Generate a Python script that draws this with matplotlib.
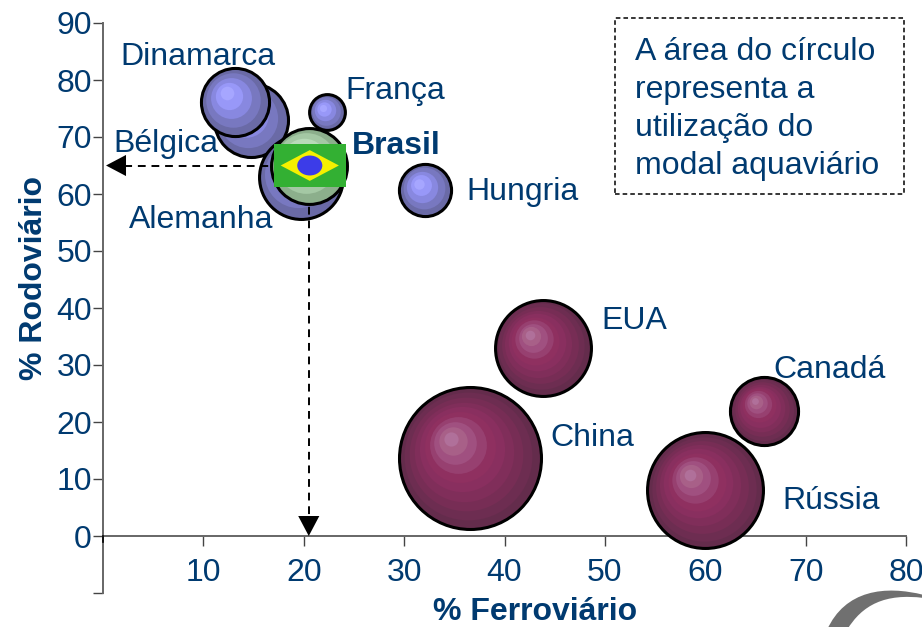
import numpy as np
import matplotlib
matplotlib.use('Agg')
import matplotlib.pyplot as plt
from matplotlib.colors import LinearSegmentedColormap
from matplotlib.patches import Rectangle, Polygon, Ellipse, PathPatch
from matplotlib.path import Path
from matplotlib.transforms import Affine2D

plt.rcParams['font.family'] = ['Liberation Sans', 'DejaVu Sans']

paises = ['Bélgica', 'Dinamarca', 'Alemanha', 'França', 'Hungria', 'EUA', 'China', 'Rússia', 'Canadá']
ferroviario = [14.7, 13.2, 19.7, 22.3, 32.1, 43.8, 36.6, 60.0, 65.9]
rodoviario = [73.0, 76.2, 63.0, 74.3, 60.7, 33.0, 13.7, 8.0, 22.0]
aquaviario = [13.7, 11.6, 17.6, 3.2, 6.8, 23.0, 50.4, 33.6, 11.6]
grupo = ['azul', 'azul', 'azul', 'azul', 'azul', 'roxo', 'roxo', 'roxo', 'roxo']

brasil_x = 20.5
brasil_y = 65.0
brasil_aqua = 14.4

xticks = [10, 20, 30, 40, 50, 60, 70, 80]
yticks = [0, 10, 20, 30, 40, 50, 60, 70, 80, 90]

azul_txt = '#003a70'
cores = {
    'azul': LinearSegmentedColormap.from_list('azul', ['#6a6aa6', '#7878c0', '#8888e0', '#9898f8', '#a6a6ff']),
    'roxo': LinearSegmentedColormap.from_list('roxo', [(0, '#642c4c'), (0.45, '#8a2f5f'), (0.56, '#8f3060'), (0.67, '#974070'), (0.78, '#a05080'), (0.89, '#a86088'), (1, '#b0709a')]),
    'verde': LinearSegmentedColormap.from_list('verde', ['#8caf8c', '#a4c8a4', '#b8dab8', '#cce8cc', '#dcf0dc']),
}
faixas = {'azul': 5, 'verde': 5, 'roxo': 10}

# pixel offsets of the labels from their bubble
desloc = {
    'Bélgica': (-85, -24), 'Dinamarca': (-38, 45), 'Alemanha': (-100, -43),
    'França': (68, 21), 'Hungria': (97, -2), 'EUA': (92, 27),
    'China': (122, 20), 'Rússia': (126, -11), 'Canadá': (65, 41),
}

fig = plt.figure(figsize=(9.22, 6.27), dpi=100)
W, H = 922, 627
ax = fig.add_axes([103 / W, 1 - 593 / H, (906 - 103) / W, (593 - 23) / H])
ax.set_xlim(0, 80)
ax.set_ylim(-10, 90)
ax.patch.set_alpha(0)


def bolha(x, y, agua, nome_cor, z):
    # area goes with the share: radius in pixels is 10*sqrt(share)
    r = 10 * np.sqrt(agua)
    cmap = cores[nome_cor]
    n = faixas[nome_cor]
    for k in range(n):
        t = k / n
        dx = -0.3 * r * t
        dy = 0.3 * r * t
        raio = r * (1 - t)
        d_pt = 2 * raio * 0.72
        tr = ax.transData + Affine2D().translate(dx, dy)
        if k == 0:
            ax.scatter([x], [y], s=d_pt ** 2, color=cmap(0.0), edgecolor='black', linewidth=2.2,
                       transform=tr, zorder=z, clip_on=False)
        else:
            ax.scatter([x], [y], s=d_pt ** 2, color=cmap(k / (n - 1)), linewidth=0,
                       transform=tr, zorder=z + 0.01 * k, clip_on=False)


for i in range(len(paises)):
    bolha(ferroviario[i], rodoviario[i], aquaviario[i], grupo[i], 3 + i * 0.2)
    ax.annotate(paises[i], (ferroviario[i], rodoviario[i]), xytext=desloc[paises[i]],
                textcoords='offset pixels', ha='center', va='center', fontsize=23,
                color=azul_txt, zorder=8)

bolha(brasil_x, brasil_y, brasil_aqua, 'verde', 5.5)
ax.annotate('Brasil', (brasil_x, brasil_y), xytext=(87, 20), textcoords='offset pixels',
            ha='center', va='center', fontsize=23, fontweight='bold', color=azul_txt, zorder=8)

# flag
ax.add_patch(Rectangle((brasil_x - 3.5, brasil_y - 3.7), 7.17, 7.4, color='#33b033', lw=0, zorder=6))
ax.add_patch(Polygon([(brasil_x - 2.8, brasil_y), (brasil_x + 0.1, brasil_y + 2.7),
                      (brasil_x + 3.0, brasil_y), (brasil_x + 0.1, brasil_y - 2.7)],
                     closed=True, color='#f5f000', lw=0, zorder=6.1))
ax.add_patch(Ellipse((brasil_x + 0.1, brasil_y), 2.5, 3.5, color='#3c3ce8', lw=0, zorder=6.2))

# dashed guides down to the axes, over Alemanha and under Brasil
ax.plot([brasil_x, 1.5], [brasil_y, brasil_y], color='black', ls=(0, (4, 3)), lw=1.4, zorder=5)
ax.plot([brasil_x, brasil_x], [brasil_y, 2], color='black', ls=(0, (4, 3)), lw=1.4, zorder=5)
ax.annotate('', xy=(0.3, brasil_y), xytext=(2.3, brasil_y), zorder=5,
            arrowprops=dict(arrowstyle='-|>,head_length=0.72,head_width=0.38', color='black',
                            lw=0, shrinkA=0, shrinkB=0, mutation_scale=20))
ax.annotate('', xy=(brasil_x, 0), xytext=(brasil_x, 3.8), zorder=5,
            arrowprops=dict(arrowstyle='-|>,head_length=0.72,head_width=0.38', color='black',
                            lw=0, shrinkA=0, shrinkB=0, mutation_scale=20))

# axes
for lado in ['top', 'right']:
    ax.spines[lado].set_visible(False)
ax.spines['bottom'].set_position(('data', 0))
for lado in ['left', 'bottom']:
    ax.spines[lado].set_color('#666666')
    ax.spines[lado].set_linewidth(1.4)
ax.set_xticks(xticks)
ax.set_yticks([-10] + yticks)
ax.set_yticklabels([''] + [str(v) for v in yticks])
ax.tick_params(axis='y', direction='out', length=7, width=1, color='#444444', pad=1,
               labelsize=23, labelcolor=azul_txt)
ax.tick_params(axis='x', direction='out', length=7, width=1, color='#444444', pad=9,
               labelsize=23, labelcolor=azul_txt)
ax.plot([0, 0], [0, -1], color='black', lw=1.2, clip_on=False, zorder=4)

fig.text(535 / W, 1 - 612 / H, '% Ferroviário', ha='center', va='center', fontsize=23,
         fontweight='bold', color=azul_txt)
fig.text(34 / W, 1 - 278 / H, '% Rodoviário', ha='center', va='center', rotation=90, fontsize=23,
         fontweight='bold', color=azul_txt)

# note box
fig.add_artist(Rectangle((615 / W, 1 - 194 / H), 289 / W, 176 / H, transform=fig.transFigure,
                         fill=False, edgecolor='black', lw=1.1, ls=(0, (3, 2))))
fig.text(635 / W, 1 - 109 / H, 'A área do círculo\nrepresenta a\nutilização do\nmodal aquaviário',
         ha='left', va='center', fontsize=23, color=azul_txt, linespacing=1.36)

# logo swoosh cut off by the bottom edge
pts = [(827, 630), (845, 590), (885, 585), (924, 595), (924, 598), (885, 593), (862, 605), (847, 630), (827, 630)]
cods = [Path.MOVETO, Path.CURVE4, Path.CURVE4, Path.CURVE4, Path.LINETO,
        Path.CURVE4, Path.CURVE4, Path.CURVE4, Path.CLOSEPOLY]
tr_px = Affine2D().scale(1, -1).translate(0, H)
fig.add_artist(PathPatch(Path(pts, cods), facecolor='#707070', edgecolor='none', transform=tr_px))

fig.savefig('out.png', dpi=100)
